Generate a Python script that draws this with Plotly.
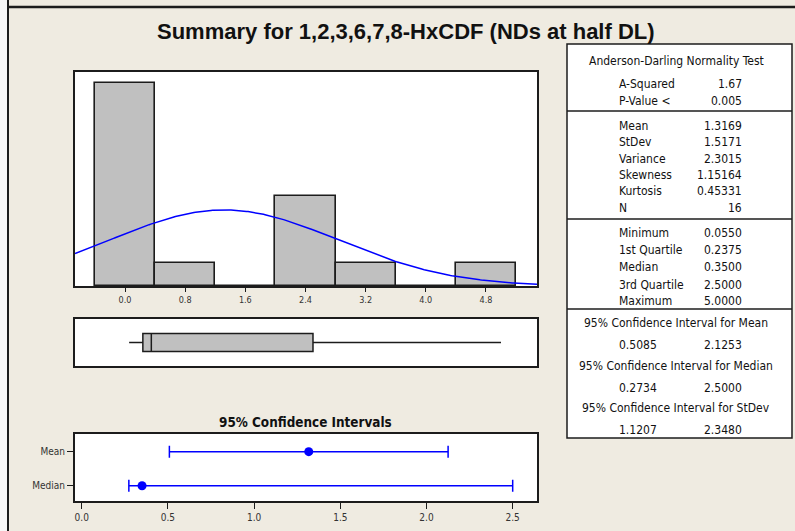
import numpy as np
import plotly.graph_objects as go

# ---------------- data ----------------
TITLE = "Summary for 1,2,3,6,7,8-HxCDF (NDs at half DL)"

bin_centers = [0.0, 0.8, 1.6, 2.4, 3.2, 4.0, 4.8]
bin_counts = [9, 1, 0, 4, 1, 0, 1]
BIN_WIDTH = 0.8
hist_ticks = [0.0, 0.8, 1.6, 2.4, 3.2, 4.0, 4.8]

N_OBS = 16
MEAN = 1.3169
STDEV = 1.5171

box_min = [0.0550]
box_q1 = [0.2375]
box_median = [0.3500]
box_q3 = [2.5000]
box_max = [5.0000]

ci_labels = ["Mean", "Median"]
ci_points = [1.3169, 0.3500]
ci_lower = [0.5085, 0.2734]
ci_upper = [2.1253, 2.5000]
ci_ticks = [0.0, 0.5, 1.0, 1.5, 2.0, 2.5]
CI_TITLE = "95% Confidence Intervals"

ad_title = "Anderson-Darling Normality Test"
ad_labels = ["A-Squared", "P-Value <"]
ad_values = ["1.67", "0.005"]
desc_labels = ["Mean", "StDev", "Variance", "Skewness", "Kurtosis", "N"]
desc_values = ["1.3169", "1.5171", "2.3015", "1.15164", "0.45331", "16"]
quart_labels = ["Minimum", "1st Quartile", "Median", "3rd Quartile", "Maximum"]
quart_values = ["0.0550", "0.2375", "0.3500", "2.5000", "5.0000"]
ci_table_titles = ["95% Confidence Interval for Mean",
                   "95% Confidence Interval for Median",
                   "95% Confidence Interval for StDev"]
ci_table_low = ["0.5085", "0.2734", "1.1207"]
ci_table_high = ["2.1253", "2.5000", "2.3480"]

# ---------------- layout helpers ----------------
W, H = 795, 531
BG = "#EFEBE1"
FRAME = "#1c1c1c"
SMALL_FONT = "Tahoma, 'DejaVu Sans Condensed', 'Liberation Sans', Arial, sans-serif"
TITLE_FONT = "'Liberation Sans', Arial, sans-serif"


def fx(px):
    return px / W


def fy(py):
    return 1 - py / H


HIST_X = [-0.665, 5.479]
CI_X = [-0.039, 2.641]

fig = go.Figure()

# histogram
fig.add_trace(go.Bar(
    x=bin_centers, y=bin_counts, width=BIN_WIDTH,
    marker=dict(color="#C0C0C0", line=dict(color=FRAME, width=1.6)),
    xaxis="x", yaxis="y", hoverinfo="skip", showlegend=False))

# fitted normal curve from the reported mean / stdev
xs = np.linspace(HIST_X[0], HIST_X[1], 300)
ys = N_OBS * BIN_WIDTH * np.exp(-0.5 * ((xs - MEAN) / STDEV) ** 2) / (STDEV * np.sqrt(2 * np.pi))
fig.add_trace(go.Scatter(x=xs, y=ys, mode="lines",
                         line=dict(color="#0000FF", width=1.5),
                         xaxis="x", yaxis="y", hoverinfo="skip", showlegend=False))

# box plot
fig.add_trace(go.Box(
    q1=box_q1, median=box_median, q3=box_q3,
    lowerfence=box_min, upperfence=box_max, y=[0],
    orientation="h", width=0.77, whiskerwidth=0,
    fillcolor="#C0C0C0", line=dict(color=FRAME, width=1.5),
    boxpoints=False, xaxis="x2", yaxis="y2", hoverinfo="skip", showlegend=False))

# confidence intervals
fig.add_trace(go.Scatter(
    x=ci_points, y=ci_labels, mode="markers",
    marker=dict(color="#0000FF", size=9),
    error_x=dict(type="data", symmetric=False,
                 array=[u - p for u, p in zip(ci_upper, ci_points)],
                 arrayminus=[p - l for p, l in zip(ci_points, ci_lower)],
                 color="#0000FF", thickness=1.5, width=6),
    xaxis="x3", yaxis="y3", hoverinfo="skip", showlegend=False))

axis_frame = dict(showline=True, mirror=True, linecolor=FRAME, linewidth=2,
                  showgrid=False, zeroline=False)
tickfont = dict(family=SMALL_FONT, size=9, color="#333333")
tickfont_ci = dict(family=SMALL_FONT, size=10, color="#333333")

fig.update_layout(
    width=W, height=H,
    margin=dict(l=0, r=0, t=0, b=0),
    paper_bgcolor=BG, plot_bgcolor="white",
    showlegend=False,
    bargap=0,
    xaxis=dict(domain=[fx(75), fx(537)], range=HIST_X, tickvals=hist_ticks,
               ticktext=[f"{t:.1f}" for t in hist_ticks],
               ticks="outside", ticklen=4, tickcolor=FRAME, tickfont=tickfont,
               anchor="y", **axis_frame),
    yaxis=dict(domain=[fy(286), fy(72)], range=[0, 9.47], showticklabels=False,
               ticks="", anchor="x", **axis_frame),
    xaxis2=dict(domain=[fx(75), fx(537)], range=HIST_X, showticklabels=False,
                ticks="", anchor="y2", **axis_frame),
    yaxis2=dict(domain=[fy(366), fy(319)], range=[-1, 1], showticklabels=False,
                ticks="", anchor="x2", **axis_frame),
    xaxis3=dict(domain=[fx(75), fx(537)], range=CI_X, tickvals=ci_ticks,
                ticktext=[f"{t:.1f}" for t in ci_ticks],
                ticks="outside", ticklen=6, tickcolor=FRAME, tickfont=tickfont_ci,
                anchor="y3", **axis_frame),
    yaxis3=dict(domain=[fy(501), fy(434)], type="category",
                categoryorder="array", categoryarray=["Median", "Mean"],
                range=[-0.45, 1.52], ticks="outside", ticklen=6, tickcolor=FRAME,
                tickfont=tickfont_ci, anchor="x3", **axis_frame),
)

shapes = []
# outer window edges
shapes.append(dict(type="rect", xref="paper", yref="paper", x0=0, x1=fx(8), y0=0, y1=1,
                   fillcolor="#F7F7F7", line=dict(width=0), layer="below"))
shapes.append(dict(type="line", xref="paper", yref="paper", x0=fx(8), x1=fx(8), y0=0, y1=1,
                   line=dict(color=FRAME, width=2)))
shapes.append(dict(type="line", xref="paper", yref="paper", x0=fx(8), x1=1, y0=fy(7), y1=fy(7),
                   line=dict(color=FRAME, width=2.5)))
# stats table
TL, TR, TT, TB = 567, 792, 44, 438
shapes.append(dict(type="rect", xref="paper", yref="paper", x0=fx(TL), x1=fx(TR),
                   y0=fy(TB), y1=fy(TT), fillcolor="white",
                   line=dict(color=FRAME, width=1.5)))
for sy in [111, 219, 309]:
    shapes.append(dict(type="line", xref="paper", yref="paper", x0=fx(TL), x1=fx(TR),
                       y0=fy(sy), y1=fy(sy), line=dict(color=FRAME, width=1.5)))

annotations = []
tfont = dict(family=SMALL_FONT, size=12, color="#111111")
LX, RX, CX = 617, 744, 676


def txt(text, x, y, anchor, font=tfont):
    annotations.append(dict(text=text, x=fx(x), y=fy(y), xref="paper", yref="paper",
                            xanchor=anchor, yanchor="middle", showarrow=False, font=font))


txt(ad_title, CX, 61, "center")
for lab, val, y in zip(ad_labels, ad_values, [84, 101]):
    txt(lab, LX, y, "left")
    txt(val, RX, y, "right")
for lab, val, y in zip(desc_labels, desc_values, [126, 142, 159, 175, 191, 208]):
    txt(lab, LX, y, "left")
    txt(val, RX, y, "right")
for lab, val, y in zip(quart_labels, quart_values, [233, 250, 267, 285, 301]):
    txt(lab, LX, y, "left")
    txt(val, RX, y, "right")
for t, lo, hi, y in zip(ci_table_titles, ci_table_low, ci_table_high, [323, 366, 408]):
    txt(t, CX, y, "center")
    txt(lo, LX, y + 22, "left")
    txt(hi, RX, y + 22, "right")

# titles
txt(TITLE, 406, 32, "center",
    font=dict(family=TITLE_FONT, size=22, color="#111111", weight="bold"))
txt(CI_TITLE, 305, 422, "center",
    font=dict(family=SMALL_FONT, size=13.4, color="#111111", weight="bold"))

fig.update_layout(shapes=shapes, annotations=annotations)

fig.write_html(
    "out.html",
    config={"displayModeBar": False},
    post_script="document.body.style.margin='0';document.body.style.overflow='hidden';",
)
